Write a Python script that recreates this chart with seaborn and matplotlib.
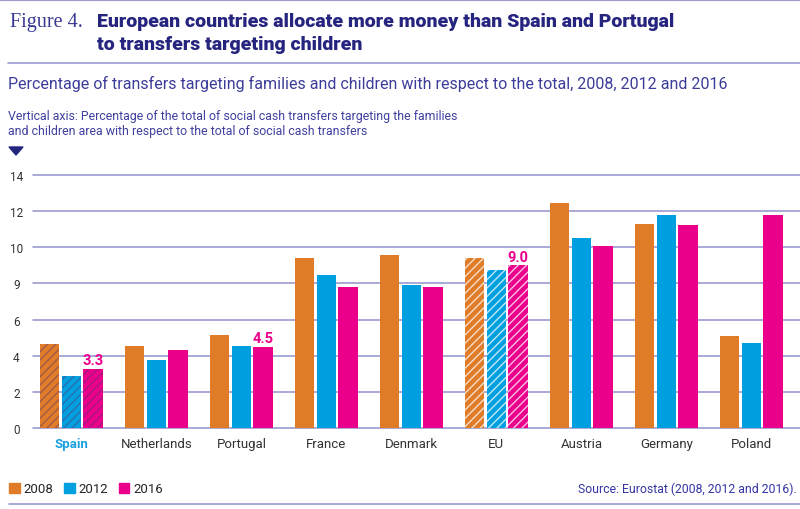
import matplotlib
matplotlib.use('Agg')
import matplotlib.pyplot as plt
import matplotlib.patches as mpatches
import pandas as pd
import seaborn as sns

# values
countries = ['Spain', 'Netherlands', 'Portugal', 'France', 'Denmark', 'EU', 'Austria', 'Germany', 'Poland']
years = ['2008', '2012', '2016']
v2008 = [4.65, 4.55, 5.15, 9.4, 9.55, 9.4, 12.45, 11.3, 5.1]
v2012 = [2.9, 3.75, 4.55, 8.45, 7.9, 8.75, 10.5, 11.8, 4.7]
v2016 = [3.3, 4.35, 4.5, 7.8, 7.8, 9.0, 10.05, 11.2, 11.8]
ytick_vals = [0, 2, 4, 6, 8, 10, 12, 14]
ytick_text = ['0', '2', '4', '6', '9', '10', '12', '14']  # as printed in the source
labelled = ['Spain', 'Portugal', 'EU']

colors = ['#E07B27', '#00A0E0', '#EB008B']
navy = '#25247F'
lav = '#9B9BD0'

df = pd.DataFrame({
    'country': countries * 3,
    'year': [y for y in years for _ in countries],
    'value': v2008 + v2012 + v2016,
})

sns.set_style('white')
plt.rcParams['font.family'] = ['Roboto', 'DejaVu Sans']
plt.rcParams['hatch.linewidth'] = 1.0

fig = plt.figure(figsize=(8, 5.1), dpi=100)
ax = fig.add_axes([0.04125, 0.1582, 0.95875, 0.4973])

sns.barplot(data=df, x='country', y='value', hue='year', palette=colors,
            width=0.765, gap=0.1, saturation=1, legend=False,
            linewidth=0, ax=ax)

# hatch Spain (dark stripes) and EU (white stripes)
for cont in ax.containers:
    for name, bar in zip(countries, cont):
        if name == 'Spain':
            bar.set_hatch('////')
            bar.set_edgecolor((0.35, 0.2, 0.45, 0.45))
        elif name == 'EU':
            bar.set_hatch('////')
            bar.set_edgecolor((1, 1, 1, 0.75))

# value labels for 2016
lab = [f'{v:.1f}' if c in labelled else '' for c, v in zip(countries, v2016)]
ax.bar_label(ax.containers[2], labels=lab, padding=1, color=colors[2],
             fontsize=10.5, fontweight='bold')

ax.set_xlim(-0.452, 8.572)
ax.set_ylim(0, 14)
ax.set_yticks(ytick_vals)
ax.set_yticklabels(ytick_text)
ax.set_axisbelow(True)
ax.grid(axis='y', color=lav, linewidth=1.2)
ax.grid(axis='x', visible=False)
for gl in ax.get_ygridlines():
    gl.set_clip_on(False)
for s in ax.spines.values():
    s.set_visible(False)
ax.set_xlabel('')
ax.set_ylabel('')
ax.tick_params(axis='y', length=0, pad=12, labelsize=8.5, labelcolor='#333333')
ax.tick_params(axis='x', length=0, pad=6, labelsize=9.5, labelcolor='#333333')
for t in ax.get_yticklabels():
    t.set_ha('center')
for t in ax.get_xticklabels():
    if t.get_text() == 'Spain':
        t.set_color('#1A9FE0')
        t.set_fontweight('bold')

# header
fig.add_artist(plt.Line2D([0, 1], [0.998, 0.998], color=lav, lw=1.5))
fig.add_artist(plt.Line2D([0.01, 1], [1 - 64 / 510, 1 - 64 / 510], color=lav, lw=1.2))
fig.text(10 / 800, 1 - 22 / 510, 'Figure 4.', family=['Liberation Serif'],
         fontsize=14.5, color='#3A3A95', va='center')
fig.text(97 / 800, 1 - 22 / 510, 'European countries allocate more money than Spain and Portugal',
         fontsize=14, fontweight='black', color=navy, va='center')
fig.text(97 / 800, 1 - 45 / 510, 'to transfers targeting children',
         fontsize=14, fontweight='black', color=navy, va='center')
fig.text(8 / 800, 1 - 84 / 510,
         'Percentage of transfers targeting families and children with respect to the total, 2008, 2012 and 2016',
         fontsize=11.55, color='#3C3C9A', va='center')
fig.text(8 / 800, 1 - 117 / 510,
         'Vertical axis: Percentage of the total of social cash transfers targeting the families',
         fontsize=8.9, color='#4040A0', va='center')
fig.text(8 / 800, 1 - 132 / 510,
         'and children area with respect to the total of social cash transfers',
         fontsize=8.9, color='#4040A0', va='center')
tri = mpatches.Polygon([[9 / 800, 1 - 148 / 510], [23 / 800, 1 - 148 / 510], [16 / 800, 1 - 156 / 510]],
                       closed=True, color=navy, transform=fig.transFigure)
fig.add_artist(tri)

# legend and source
handles = [mpatches.Patch(color=c, label=y) for c, y in zip(colors, years)]
fig.legend(handles=handles, loc='center left', bbox_to_anchor=(0.0, 1 - 490 / 510),
           ncol=3, frameon=False, handlelength=0.8, handleheight=0.8,
           handletextpad=0.3, columnspacing=0.8, fontsize=9.5, borderaxespad=0.3)
fig.text(797 / 800, 1 - 489 / 510, 'Source: Eurostat (2008, 2012 and 2016).',
         fontsize=8.85, color='#3535A5', ha='right', va='center')
fig.add_artist(plt.Line2D([0.011, 1], [1 - 505 / 510, 1 - 505 / 510], color=lav, lw=1.2))

fig.savefig('out.png', dpi=100)
